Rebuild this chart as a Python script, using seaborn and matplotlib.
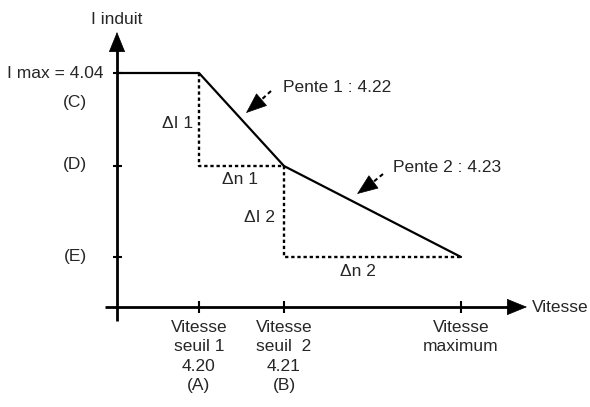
import matplotlib
matplotlib.use("Agg")
import matplotlib.pyplot as plt
import seaborn as sns
import pandas as pd

sns.set_theme(style="white")
plt.rcParams["font.family"] = ["Liberation Sans", "DejaVu Sans"]

# Schematic speed positions (seuil 1, seuil 2, maximum) and current levels
speed_start = 0
speed_seuil1 = 82
speed_seuil2 = 167
speed_max = 344
current_max = 234
current_d = 141
current_e = 50

curve_speed = [speed_start, speed_seuil1, speed_seuil2, speed_max]
curve_current = [current_max, current_max, current_d, current_e]

xtick_pos = [speed_seuil1, speed_seuil2, speed_max]
xtick_labels = ["Vitesse\nseuil 1\n4.20\n(A)", "Vitesse\nseuil  2\n4.21\n(B)", "Vitesse\nmaximum"]
ytick_pos = [current_max, current_d, current_e]

FS = 12.5
LW_AXIS = 2.0
LW_CURVE = 1.6

fig = plt.figure(figsize=(5.90, 4.07), dpi=100)
ax = fig.add_axes([0, 0, 1, 1])
ax.set_xlim(-117, 473)
ax.set_ylim(-100, 307)
ax.axis("off")

# Current characteristic
curve = pd.DataFrame({"vitesse": curve_speed, "courant": curve_current})
sns.lineplot(data=curve, x="vitesse", y="courant", ax=ax, color="black",
             lw=LW_CURVE, sort=False, estimator=None)

# Dotted construction triangles for the two slopes
tri1 = pd.DataFrame({"vitesse": [speed_seuil1, speed_seuil1, speed_seuil2],
                     "courant": [current_max, current_d, current_d]})
tri2 = pd.DataFrame({"vitesse": [speed_seuil2, speed_seuil2, speed_max],
                     "courant": [current_d, current_e, current_e]})
for tri in (tri1, tri2):
    sns.lineplot(data=tri, x="vitesse", y="courant", ax=ax, color="black",
                 lw=1.7, sort=False, estimator=None, dashes=False,
                 linestyle=(0, (1.4, 1.2)))

# Axes with arrow heads
ax.plot([0, 0], [-14, 260], color="black", lw=LW_AXIS, solid_capstyle="butt")
ax.plot([-12, 392], [0, 0], color="black", lw=LW_AXIS, solid_capstyle="butt")
arrow_style = "-|>,head_length=1.35,head_width=0.55"
ax.annotate("", xy=(0, 275), xytext=(0, 255),
            arrowprops=dict(arrowstyle=arrow_style, mutation_scale=10,
                            color="black", lw=0.5, shrinkA=0, shrinkB=0))
ax.annotate("", xy=(410, 0), xytext=(388, 0),
            arrowprops=dict(arrowstyle=arrow_style, mutation_scale=10,
                            color="black", lw=0.5, shrinkA=0, shrinkB=0))

# Tick marks
for xp in xtick_pos:
    ax.plot([xp, xp], [6, -6], color="black", lw=1.5, solid_capstyle="butt")
for yp in ytick_pos:
    ax.plot([-4, 5], [yp, yp], color="black", lw=1.5, solid_capstyle="butt")

# Tick labels
for xp, lab in zip(xtick_pos, xtick_labels):
    ax.text(xp, -13, lab, ha="center", va="top", fontsize=FS, linespacing=1.36)

ax.text(-13, current_max, "I max = 4.04", ha="right", va="center", fontsize=FS)
ax.text(-42, 205, "(C)", ha="center", va="center", fontsize=FS)
ax.text(-42, current_d + 1, "(D)", ha="center", va="center", fontsize=FS)
ax.text(-42, current_e + 1, "(E)", ha="center", va="center", fontsize=FS)

ax.text(0, 288, "I induit", ha="center", va="center", fontsize=FS)
ax.text(415, 0, "Vitesse", ha="left", va="center", fontsize=FS)

# Delta labels
ax.text(61, 183, "\u0394I 1", ha="center", va="center", fontsize=FS)
ax.text(123, 127, "\u0394n 1", ha="center", va="center", fontsize=FS)
ax.text(142, 90, "\u0394I 2", ha="center", va="center", fontsize=FS)
ax.text(241, 36, "\u0394n 2", ha="center", va="center", fontsize=FS)

# Slope annotations with dashed leaders
ax.text(166, 220, "Pente 1 : 4.22", ha="left", va="center", fontsize=FS)
ax.text(276, 139, "Pente 2 : 4.23", ha="left", va="center", fontsize=FS)

head_style = "-|>,head_length=1.4,head_width=0.55"
for tail, base, tip in (((154, 216), (143, 206), (129, 194)),
                        ((266, 133), (255, 124), (240, 113))):
    ax.plot([tail[0], base[0]], [tail[1], base[1]], color="black", lw=1.5,
            linestyle=(0, (2.0, 1.5)))
    ax.annotate("", xy=tip, xytext=base,
                arrowprops=dict(arrowstyle=head_style, mutation_scale=10,
                                color="black", lw=0.5, shrinkA=0, shrinkB=0))

fig.savefig("out.png", dpi=100, facecolor="white")
